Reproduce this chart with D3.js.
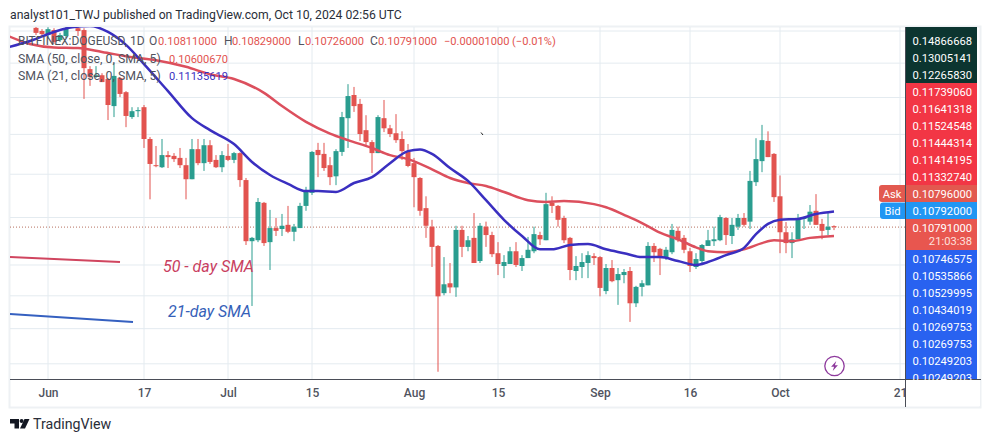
<!DOCTYPE html>
<html>
<head>
<meta charset="utf-8">
<script src="https://cdn.jsdelivr.net/npm/d3@7"></script>
<style>
  html, body { margin: 0; padding: 0; background: #fff; overflow: hidden; }
  svg { display: block; }
  text { font-family: Roboto, "Noto Sans", sans-serif; }
</style>
</head>
<body>
<div id="chart"></div>
<script>
// Dimensions of the page and of the plot area.
const WIDTH = 991;
const HEIGHT = 442;
const PLOT = { left: 10, right: 905, top: 27, bottom: 379 };

const UP = "#2a9d8f";
const DOWN = "#e2534f";
const GRID = "#e4ebf0";
const SMA50_COLOR = "#dc4f5d";
const SMA21_COLOR = "#3a2fc0";

// Daily candles, one per day, starting from this date.
const FIRST_DAY = Date.UTC(2024, 4, 30);

const opens = [
  .1610, .1600, .1587, .1603, .1571, .1584, .1619, .1609, .1603, .1482,
  .1459, .1464, .1453, .1376, .1456, .1415, .1346, .1362, .1373, .1288,
  .1222, .1217, .1247, .1245, .1240, .1222, .1188, .1262, .1227, .1272,
  .1235, .1217, .1245, .1235, .1252, .1186, .1049, .1051, .1133, .1047,
  .1077, .1075, .1084, .1069, .1077, .1126, .1156, .1260, .1250, .1222,
  .1195, .1255, .1343, .1407, .1382, .1311, .1280, .1252, .1343, .1316,
  .1303, .1288, .1255, .1227, .1191, .1121, .1080, .1039, .0945, .0964,
  .0956, .1073, .1037, .1056, .1008, .1080, .1062, .1024, .0998, .1002,
  .1028, .0998, .1014, .1028, .1062, .1051, .1133, .1126, .1099, .1056,
  .0988, .0996, .1004, .1018, .1016, .0949, .0994, .0970, .0980, .0988,
  .0926, .0957, .0960, .1039, .1033, .1014, .1026, .1071, .1056, .1028,
  .0996, .1008, .1039, .1049, .1051, .1099, .1060, .1080, .1099, .1091,
  .1181, .1232, .1283, .1250, .1148, .1068, .1045, .1053, .1097, .1091,
  .1115, .1086, .1073, .10811,
];
const highs = [
  .1616, .1606, .1612, .1609, .1594, .1616, .1640, .1619, .1609, .1491,
  .1491, .1470, .1456, .1500, .1459, .1418, .1373, .1373, .1379, .1293,
  .1270, .1288, .1257, .1252, .1265, .1240, .1288, .1288, .1288, .1285,
  .1247, .1257, .1275, .1255, .1254, .1191, .1058, .1144, .1135, .1117,
  .1099, .1108, .1126, .1086, .1133, .1170, .1257, .1278, .1278, .1242,
  .1262, .1360, .1438, .1430, .1396, .1351, .1285, .1351, .1393, .1325,
  .1354, .1308, .1275, .1240, .1193, .1148, .1095, .1041, .1016, .1004,
  .1082, .1082, .1060, .1110, .1088, .1091, .1069, .1047, .1020, .1037,
  .1047, .1020, .1058, .1080, .1069, .1156, .1148, .1128, .1104, .1058,
  .1018, .1024, .1028, .1024, .1018, .1002, .1010, .0994, .0992, .0996,
  .0959, .0970, .1047, .1045, .1035, .1037, .1086, .1080, .1062, .1035,
  .1024, .1043, .1073, .1080, .1106, .1101, .1099, .1108, .1110, .1208,
  .1290, .1325, .1308, .1252, .1197, .1090, .1068, .1108, .1101, .1128,
  .1153, .1097, .1110, .10829,
];
const lows = [
  .1587, .1584, .1581, .1559, .1565, .1577, .1616, .1584, .1396, .1433,
  .1456, .1444, .1338, .1346, .1401, .1319, .1341, .1346, .1265, .1141,
  .1217, .1215, .1215, .1230, .1215, .1141, .1188, .1222, .1208, .1225,
  .1215, .1205, .1232, .1227, .1170, .1041, .0921, .1047, .1039, .0990,
  .1060, .1060, .1066, .1049, .1077, .1115, .1151, .1193, .1208, .1174,
  .1174, .1245, .1265, .1360, .1283, .1272, .1203, .1252, .1306, .1293,
  .1278, .1235, .1217, .1123, .1104, .1056, .0996, .0807, .0941, .0945,
  .0938, .1016, .1028, .1004, .1004, .1037, .1016, .0980, .0974, .1002,
  .0996, .0988, .1014, .1024, .1041, .1051, .1110, .1080, .1045, .0970,
  .0970, .0974, .0974, .1000, .0939, .0943, .0966, .0923, .0964, .0892,
  .0919, .0939, .0960, .1006, .0980, .1010, .1022, .1047, .1024, .0986,
  .0992, .1004, .1039, .1039, .1049, .1041, .1043, .1073, .1080, .1075,
  .1172, .1205, .1242, .1135, .1024, .1024, .1014, .1053, .1075, .1084,
  .1084, .1053, .1062, .10726,
];
const closes = [
  .1594, .1590, .1606, .1565, .1587, .1609, .1632, .1600, .1485, .1459,
  .1464, .1444, .1379, .1462, .1410, .1349, .1362, .1365, .1288, .1225,
  .1220, .1247, .1242, .1237, .1222, .1188, .1262, .1227, .1272, .1230,
  .1217, .1247, .1235, .1252, .1186, .1049, .1056, .1135, .1045, .1077,
  .1071, .1082, .1069, .1080, .1126, .1158, .1255, .1247, .1215, .1193,
  .1257, .1346, .1404, .1376, .1301, .1280, .1252, .1346, .1316, .1301,
  .1285, .1257, .1220, .1193, .1115, .1082, .1037, .0939, .0962, .0956,
  .1073, .1037, .1051, .1004, .1082, .1062, .1022, .1002, .1006, .1028,
  .1000, .1014, .1031, .1064, .1053, .1130, .1126, .1095, .1051, .0990,
  .0998, .1006, .1020, .1014, .0955, .0994, .0968, .0982, .0986, .0926,
  .0957, .0964, .1039, .1026, .1014, .1031, .1073, .1051, .1031, .0998,
  .1012, .1041, .1051, .1053, .1101, .1062, .1084, .1099, .1084, .1184,
  .1237, .1285, .1242, .1146, .1068, .1045, .1053, .1099, .1099, .1113,
  .1084, .1071, .1080, .10791,
];

// Moving averages: days counted from 1 June, and the price on that day.
const sma21Days = [-7, -3, 1, 4, 7, 10, 13, 16, 20, 24, 27, 31, 34, 37, 40, 43, 45, 48, 51, 54, 57, 60, 62, 64, 67, 70, 73, 76, 79, 82, 84, 87, 90, 93, 96, 99, 102, 105, 108, 110, 113, 116, 118, 120, 122, 125, 128, 131];
const sma21Values = [.1547, .1568, .1597, .1612, .1616, .1597, .1556, .1497, .1418, .1343, .1311, .1275, .1230, .1198, .1177, .1160, .1160, .1158, .1179, .1193, .1227, .1257, .1261, .1250, .1215, .1184, .1139, .1095, .1060, .1032, .1032, .1041, .1043, .1032, .1024, .1016, .1016, .1008, .1000, .1006, .1020, .1035, .1064, .1086, .1095, .1097, .1108, .11136];
const sma50Days = [-7, -3, 1, 5, 9, 14, 18, 23, 27, 31, 36, 39, 43, 47, 50, 54, 57, 60, 64, 67, 70, 73, 76, 80, 83, 86, 91, 93, 96, 99, 102, 105, 108, 110, 113, 116, 119, 121, 124, 127, 131];
const sma50Values = [.1587, .1559, .1548, .1546, .1534, .1518, .1509, .1489, .1467, .1453, .1413, .1376, .1333, .1302, .1285, .1265, .1247, .1237, .1212, .1191, .1179, .1172, .1158, .1139, .1135, .1137, .1130, .1123, .1106, .1088, .1067, .1053, .1036, .1028, .1026, .1032, .1045, .1051, .1049, .1056, .10601];

// Axis labels and grid positions.
const timeTicks = [[2024, 5, 1], [2024, 5, 17], [2024, 6, 1], [2024, 6, 15], [2024, 7, 1], [2024, 7, 15], [2024, 8, 1], [2024, 8, 16], [2024, 9, 1], [2024, 9, 21]];
const timeLabels = ["Jun", "17", "Jul", "15", "Aug", "15", "Sep", "16", "Oct", "21"];
const priceTicks = [.16, .15, .14, .13, .12, .11, .10, .094, .088, .082];
const lastPrice = .10791;

// Stacked price labels of the right hand scale, top to bottom.
const darkLabels = ["0.14866668", "0.13005141", "0.12265830"];
const redLabels = ["0.11739060", "0.11641318", "0.11524548", "0.11444314", "0.11414195", "0.11332740"];
const blueLabels = ["0.10746575", "0.10535866", "0.10529995", "0.10434019", "0.10269753", "0.10269753", "0.10249203", "0.10249203"];

const DAY = 86400000;
const x = d3.scaleUtc()
  .domain([new Date(Date.UTC(2024, 5, 1)), new Date(Date.UTC(2024, 9, 21))])
  .range([48, 900]);
const y = d3.scaleLog().domain([.16, .082]).range([31, 363.8]);
const dayX = (d) => x(new Date(Date.UTC(2024, 5, 1) + d * DAY));

const candles = opens.map((o, i) => ({
  date: new Date(FIRST_DAY + i * DAY),
  open: o,
  high: highs[i],
  low: lows[i],
  close: closes[i],
}));

const svg = d3.select("#chart").append("svg").attr("width", WIDTH).attr("height", HEIGHT);
svg.append("rect").attr("width", WIDTH).attr("height", HEIGHT).attr("fill", "#fff");

// Heading above the chart.
svg.append("text").attr("x", 10).attr("y", 19).attr("font-size", 12.2).attr("fill", "#2a2e39")
  .text("analyst101_TWJ published on TradingView.com, Oct 10, 2024 02:56 UTC");

// Frame round the whole chart.
svg.append("rect").attr("x", 9.5).attr("y", 26.5).attr("width", 971).attr("height", 381)
  .attr("fill", "none").attr("stroke", "#eef1f4").attr("stroke-width", 2);

svg.append("defs").append("clipPath").attr("id", "plot-clip").append("rect")
  .attr("x", PLOT.left).attr("y", PLOT.top)
  .attr("width", PLOT.right - PLOT.left).attr("height", PLOT.bottom - PLOT.top);

const plot = svg.append("g").attr("clip-path", "url(#plot-clip)");

// Grid.
const tickDates = timeTicks.map((t) => new Date(Date.UTC(t[0], t[1], t[2])));
plot.selectAll(".vgrid").data(tickDates).enter().append("line")
  .attr("x1", (d) => x(d)).attr("x2", (d) => x(d))
  .attr("y1", PLOT.top).attr("y2", PLOT.bottom)
  .attr("stroke", GRID);
plot.selectAll(".hgrid").data(priceTicks).enter().append("line")
  .attr("x1", PLOT.left).attr("x2", PLOT.right)
  .attr("y1", (d) => y(d)).attr("y2", (d) => y(d))
  .attr("stroke", GRID);

// Last price line.
plot.append("line")
  .attr("x1", PLOT.left).attr("x2", PLOT.right)
  .attr("y1", y(lastPrice)).attr("y2", y(lastPrice))
  .attr("stroke", "#b5705f").attr("stroke-dasharray", "1 2");

// Candles.
const candle = plot.selectAll(".candle").data(candles).enter().append("g");
candle.append("line")
  .attr("x1", (d) => x(d.date)).attr("x2", (d) => x(d.date))
  .attr("y1", (d) => y(d.high)).attr("y2", (d) => y(d.low))
  .attr("stroke", (d) => (d.close >= d.open ? UP : DOWN))
  .attr("stroke-width", 1);
candle.append("rect")
  .attr("x", (d) => x(d.date) - 2.5)
  .attr("width", 5)
  .attr("y", (d) => y(Math.max(d.open, d.close)))
  .attr("height", (d) => Math.max(1, Math.abs(y(d.open) - y(d.close))))
  .attr("fill", (d) => (d.close >= d.open ? UP : DOWN));

// Moving averages.
const smaLine = d3.line()
  .x((d) => dayX(d[0]))
  .y((d) => y(d[1]))
  .curve(d3.curveMonotoneX);
plot.append("path").attr("d", smaLine(d3.zip(sma50Days, sma50Values)))
  .attr("fill", "none").attr("stroke", SMA50_COLOR).attr("stroke-width", 2.5);
plot.append("path").attr("d", smaLine(d3.zip(sma21Days, sma21Values)))
  .attr("fill", "none").attr("stroke", SMA21_COLOR).attr("stroke-width", 2.5);

// Hand drawn keys for the two averages.
plot.append("line").attr("x1", 10).attr("y1", 257).attr("x2", 120).attr("y2", 262)
  .attr("stroke", "#d0455f").attr("stroke-width", 2);
plot.append("line").attr("x1", 10).attr("y1", 314).attr("x2", 133).attr("y2", 322)
  .attr("stroke", "#3560c0").attr("stroke-width", 2);
svg.append("text").attr("x", 163).attr("y", 272).attr("font-size", 16)
  .attr("font-family", "Open Sans").attr("font-style", "italic").attr("fill", "#c9405f")
  .text("50 - day SMA");
svg.append("text").attr("x", 168).attr("y", 317).attr("font-size", 16)
  .attr("font-family", "Open Sans").attr("font-style", "italic").attr("fill", "#3560b8")
  .text("21-day SMA");

// Stray speck on the original picture.
svg.append("path").attr("d", "M481 132.5 L483 135").attr("stroke", "#222").attr("stroke-width", 1);

// Time axis.
const timeAxis = d3.axisBottom(x).tickValues(tickDates)
  .tickFormat((d, i) => timeLabels[i]).tickSize(0).tickPadding(9);
const axisG = svg.append("g").attr("transform", "translate(0," + PLOT.bottom + ")").call(timeAxis);
axisG.select(".domain").remove();
axisG.selectAll("text").attr("font-size", 12).attr("font-family", "Roboto")
  .attr("fill", "#50535e").attr("font-weight", 500);

svg.append("line").attr("x1", PLOT.left).attr("x2", 981).attr("y1", PLOT.bottom + 0.5).attr("y2", PLOT.bottom + 0.5)
  .attr("stroke", "#4a4d57");

// Cover for the axis label that runs under the price scale.
svg.append("rect").attr("x", 905).attr("y", 380).attr("width", 75).attr("height", 26).attr("fill", "#fff");

// Legend at the top left.
const legend = svg.append("g");
const legendGrey = "#50535e";
const legendRed = "#e2534f";
const legendItems = [
  [18, 45, "BITFINEX:DOGEUSD, 1D", legendGrey, 12],
  [149, 45, "O", legendGrey, 12], [158, 45, "0.10811000", legendRed, 11.1],
  [224, 45, "H", legendGrey, 12], [232, 45, "0.10829000", legendRed, 11.1],
  [298, 45, "L", legendGrey, 12], [305, 45, "0.10726000", legendRed, 11.1],
  [370, 45, "C", legendGrey, 12], [378, 45, "0.10791000", legendRed, 11.1],
  [444, 45, "\u22120.00001000", legendRed, 11.1], [512, 45, "(\u22120.01%)", legendRed, 11.1],
  [18, 63, "SMA (50, close, 0, SMA, 5)", legendGrey, 12.3], [169, 63, "0.10600670", legendRed, 11.1],
  [18, 80, "SMA (21, close, 0, SMA, 5)", legendGrey, 12.3], [169, 80, "0.11135619", "#3a2fc0", 11.1],
];
legend.selectAll("text").data(legendItems).enter().append("text")
  .attr("x", (d) => d[0]).attr("y", (d) => d[1]).attr("fill", (d) => d[3])
  .attr("font-size", (d) => d[4]).text((d) => d[2]);

// Price scale with its stacked labels.
const scale = svg.append("g");
const ROW = 17;
const SCALE_X = 905.5;
const SCALE_W = 71.5;
function labelBlock(top, bottom, fill, labels, firstY) {
  scale.append("rect").attr("x", SCALE_X).attr("y", top).attr("width", SCALE_W).attr("height", bottom - top).attr("fill", fill);
  scale.selectAll(null).data(labels).enter().append("text")
    .attr("x", 972).attr("y", (d, i) => firstY + i * ROW)
    .attr("text-anchor", "end").attr("font-size", 11.2).attr("fill", "#fff").text((d) => d);
}
labelBlock(27, 83, "#0c3530", darkLabels, 44.5);
labelBlock(83, 185, "#f23645", redLabels, 95.5);
labelBlock(250, 379, "#2962f0", blueLabels, 262.5);
labelBlock(185, 202, "#e2594f", ["0.10796000"], 197.5);
labelBlock(202, 219, "#2196f3", ["0.10792000"], 214.5);
labelBlock(219, 250, "#e8564f", ["0.10791000"], 231.5);
scale.append("text").attr("x", 972).attr("y", 245).attr("text-anchor", "end")
  .attr("font-size", 11.2).attr("fill", "#fde0dc").text("21:03:38");

// Ask and Bid tags.
scale.append("path").attr("d", "M905.5 185 H882 a3 3 0 0 0 -3 3 v11 a3 3 0 0 0 3 3 H905.5 Z").attr("fill", "#e2594f");
scale.append("path").attr("d", "M905.5 202.5 H883 a3 3 0 0 0 -3 3 v10.5 a3 3 0 0 0 3 3 H905.5 Z").attr("fill", "#2196f3");
scale.append("text").attr("x", 892).attr("y", 197.5).attr("text-anchor", "middle").attr("font-size", 11.2).attr("fill", "#fff").text("Ask");
scale.append("text").attr("x", 892.5).attr("y", 214.5).attr("text-anchor", "middle").attr("font-size", 11.2).attr("fill", "#fff").text("Bid");

svg.append("line").attr("x1", 905.5).attr("x2", 905.5).attr("y1", 27).attr("y2", 407).attr("stroke", "#4a4d57");

// Lightning badge.
const badge = svg.append("g").attr("transform", "translate(834.5,366)");
badge.append("circle").attr("r", 9.7).attr("fill", "#fff").attr("stroke", "#8e3a9d").attr("stroke-width", 1.3);
badge.append("path").attr("d", "M1.8 -5 L-3.4 0.8 L-0.4 0.8 L-1.8 5 L3.4 -0.8 L0.4 -0.8 Z").attr("fill", "#8e3a9d");

// TradingView mark.
const logo = svg.append("g").attr("fill", "#131722");
logo.append("path").attr("d", "M10 419 H19 V428.5 H14.5 V423.5 H10 Z");
logo.append("circle").attr("cx", 21.6).attr("cy", 421).attr("r", 2);
logo.append("path").attr("d", "M24.5 419 H29.5 L25 428.5 H20 Z");
svg.append("text").attr("x", 33).attr("y", 429).attr("font-size", 14.2).attr("fill", "#2a2e39").text("TradingView");
</script>
</body>
</html>
